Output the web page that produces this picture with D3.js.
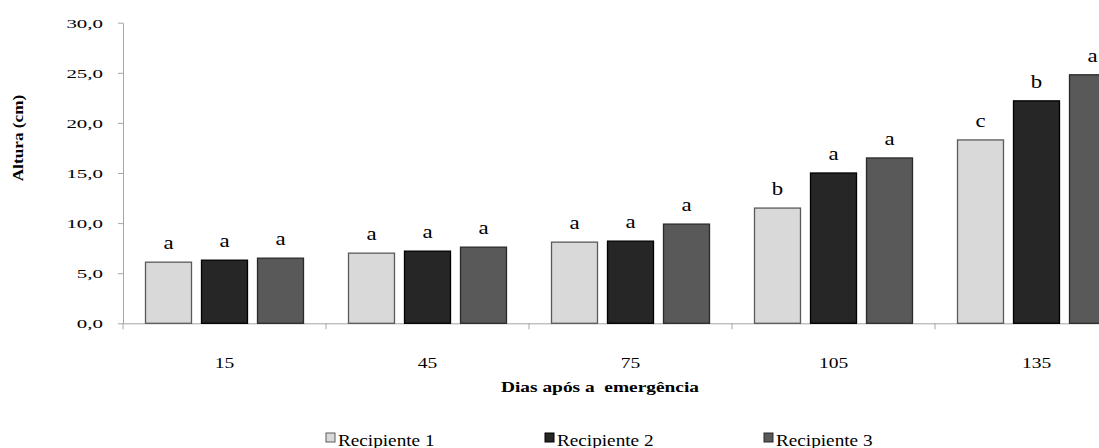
<!DOCTYPE html>
<html>
<head>
<meta charset="utf-8">
<script src="https://cdn.jsdelivr.net/npm/d3@7/dist/d3.min.js"></script>
<style>
  html, body { margin: 0; padding: 0; background: #fff; }
  svg { display: block; }
  svg text { font-family: "Liberation Serif", "Times New Roman", serif; }
</style>
</head>
<body>
<svg id="chart" width="1099" height="448"></svg>
<script>
// Plant height (cm) by days after emergence, for three container types
const days = ["15", "45", "75", "105", "135"];
const series = ["Recipiente 1", "Recipiente 2", "Recipiente 3"];
const recipiente1 = [6.1, 7.0, 8.1, 11.5, 18.3];
const recipiente2 = [6.3, 7.2, 8.2, 15.0, 22.2];
const recipiente3 = [6.5, 7.6, 9.9, 16.5, 24.8];
// Tukey letters shown above each bar
const letters1 = ["a", "a", "a", "b", "c"];
const letters2 = ["a", "a", "a", "a", "b"];
const letters3 = ["a", "a", "a", "a", "a"];
const yTicks = [0, 5, 10, 15, 20, 25, 30];

(function () {
  const values = [recipiente1, recipiente2, recipiente3];
  const letters = [letters1, letters2, letters3];
  const fills = ["#d9d9d9", "#262626", "#595959"];
  const strokes = ["#5a5a5a", "#000000", "#2a2a2a"];
  const serif = "Liberation Serif, Times New Roman, serif";

  const svg = d3.select("#chart");

  const plotLeft = 123, plotTop = 22.7, plotBottom = 323.3, catStep = 203;

  const x0 = d3.scaleBand().domain(days).range([plotLeft, plotLeft + catStep * days.length]).padding(0);
  const x1 = d3.scaleBand().domain(series).range([0, x0.bandwidth()])
    .paddingInner(10 / 56).paddingOuter(0.4018);
  const y = d3.scaleLinear().domain([0, 30]).range([plotBottom, plotTop]);

  // widen glyphs horizontally by a factor
  function stretch(sel, k) {
    sel.each(function () {
      const w = this.getComputedTextLength();
      d3.select(this).attr("textLength", w * k).attr("lengthAdjust", "spacingAndGlyphs");
    });
  }

  // y axis
  const yAxis = svg.append("g")
    .attr("transform", `translate(${plotLeft},0)`)
    .call(d3.axisLeft(y).tickValues(yTicks).tickSize(5).tickSizeOuter(0)
      .tickFormat(d => d3.format(".1f")(d).replace(".", ",")));
  yAxis.attr("font-family", serif);
  yAxis.select(".domain").attr("stroke", "#a6a6a6");
  yAxis.selectAll(".tick line").attr("stroke", "#a6a6a6");
  yAxis.selectAll(".tick text")
    .attr("x", -20).attr("dy", "0.34em")
    .attr("font-family", serif).attr("font-size", 13.5).attr("fill", "#000")
    .call(stretch, 1.55);

  // x axis line and category labels
  const xAxis = svg.append("g").attr("transform", `translate(0,${plotBottom})`)
    .call(d3.axisBottom(x0).tickSize(0).tickSizeOuter(0));
  xAxis.attr("font-family", serif);
  xAxis.select(".domain").attr("stroke", "#a6a6a6");
  xAxis.selectAll(".tick text")
    .attr("y", 34)
    .attr("font-family", serif).attr("font-size", 15).attr("fill", "#000")
    .call(stretch, 1.3);

  // tick marks between categories
  const bounds = days.map(d => x0(d)).concat([x0(days[days.length - 1]) + x0.bandwidth()]);
  svg.append("g").selectAll("line").data(bounds).join("line")
    .attr("x1", d => d).attr("x2", d => d)
    .attr("y1", plotBottom).attr("y2", plotBottom + 6)
    .attr("stroke", "#a6a6a6");

  // bars and letters
  const groups = svg.append("g").selectAll("g").data(series).join("g");
  groups.each(function (s, si) {
    const g = d3.select(this);
    g.selectAll("rect").data(values[si]).join("rect")
      .attr("x", (v, i) => x0(days[i]) + x1(s))
      .attr("y", v => y(v))
      .attr("width", x1.bandwidth())
      .attr("height", v => y(0) - y(v))
      .attr("fill", fills[si])
      .attr("stroke", strokes[si])
      .attr("stroke-width", 1.3);
    g.selectAll("text").data(values[si]).join("text")
      .attr("x", (v, i) => x0(days[i]) + x1(s) + x1.bandwidth() / 2)
      .attr("y", v => y(v) - 13)
      .attr("text-anchor", "middle")
      .attr("font-family", serif)
      .attr("font-size", 19).attr("fill", "#000")
      .text((v, i) => letters[si][i])
      .call(stretch, 1.2);
  });

  // axis titles
  svg.append("text")
    .attr("transform", "translate(23,138) rotate(-90)")
    .attr("text-anchor", "middle")
    .attr("font-family", serif)
    .attr("font-weight", "bold").attr("font-size", 15)
    .text("Altura (cm)")
    .call(stretch, 1.15);

  svg.append("text")
    .attr("x", 600).attr("y", 392)
    .attr("text-anchor", "middle")
    .attr("font-family", serif)
    .attr("font-weight", "bold").attr("font-size", 15.5)
    .attr("xml:space", "preserve")
    .text("Dias após a  emergência")
    .call(stretch, 1.25);

  // legend
  const legendX = d3.scalePoint().domain(series).range([326, 764]);
  const leg = svg.append("g").selectAll("g").data(series).join("g")
    .attr("transform", d => `translate(${legendX(d)},433)`);
  leg.append("rect")
    .attr("width", 9).attr("height", 9)
    .attr("fill", (d, i) => fills[i])
    .attr("stroke", (d, i) => strokes[i]).attr("stroke-width", 1);
  leg.append("text")
    .attr("x", 12).attr("y", 13)
    .attr("font-family", serif)
    .attr("font-size", 16).attr("fill", "#000")
    .text(d => d)
    .call(stretch, 1.2);
})();
</script>
</body>
</html>
